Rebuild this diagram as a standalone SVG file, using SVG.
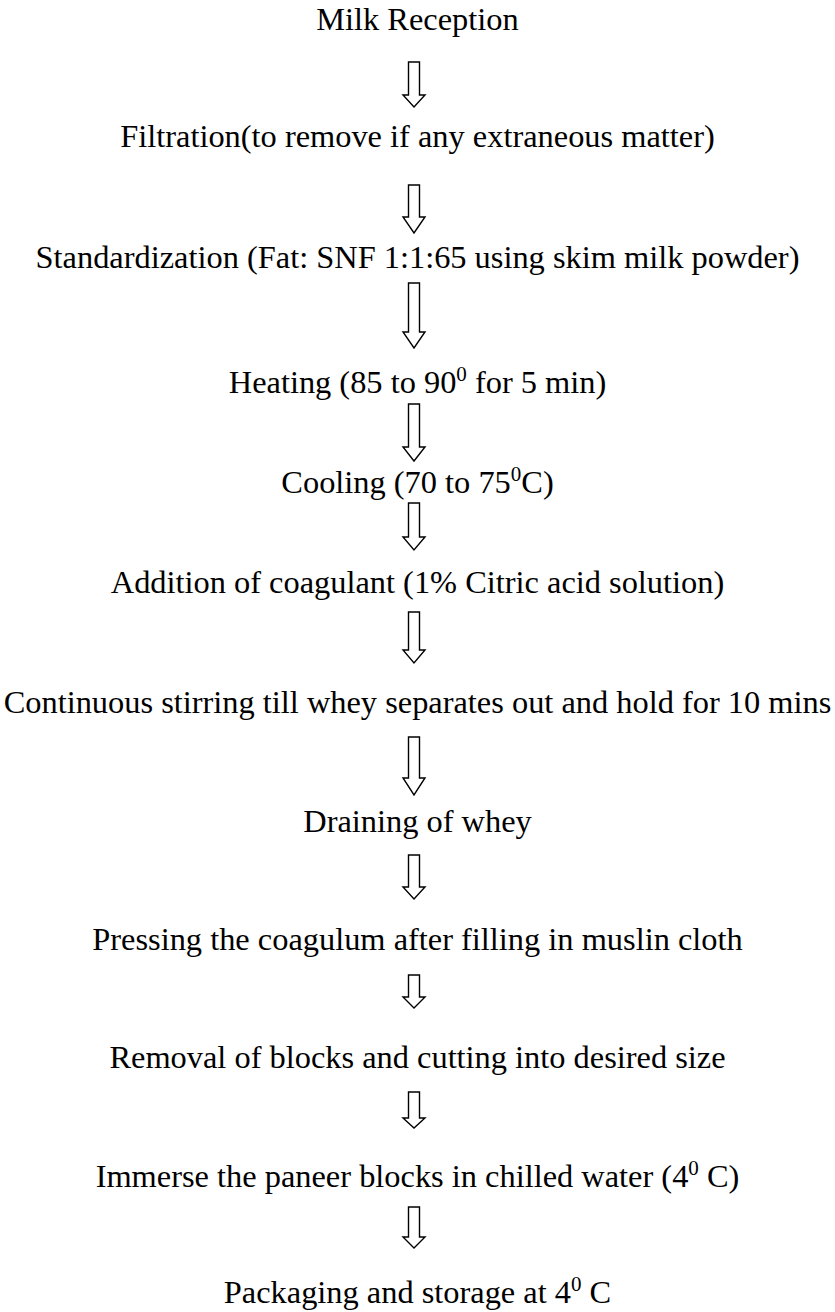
<svg xmlns="http://www.w3.org/2000/svg" width="835" height="1312" viewBox="0 0 835 1312">
<style>
  text { font-family: "Liberation Serif", "Times New Roman", serif; font-size: 32.4px; fill: #000; text-anchor: middle; }
  .sup { font-size: 21px; }
  .arr { fill: #fff; stroke: #000; stroke-width: 1.4; stroke-linejoin: miter; }
</style>
<rect width="835" height="1312" fill="#fff"/>
<g id="connectors">
  <path class="arr" d="M408.5 62 V95 H403 L414 107 L425 95 H419.5 V62 Z"/>
  <path class="arr" d="M408.5 185 V217 H403 L414 233 L425 217 H419.5 V185 Z"/>
  <path class="arr" d="M408.5 283 V332 H403 L414 348 L425 332 H419.5 V283 Z"/>
  <path class="arr" d="M408.5 404 V447 H403 L414 461 L425 447 H419.5 V404 Z"/>
  <path class="arr" d="M408.5 503 V537 H403 L414 550 L425 537 H419.5 V503 Z"/>
  <path class="arr" d="M408.5 612 V650 H403 L414 663 L425 650 H419.5 V612 Z"/>
  <path class="arr" d="M408.5 737 V778 H403 L414 795 L425 778 H419.5 V737 Z"/>
  <path class="arr" d="M408.5 855 V887 H403 L414 899 L425 887 H419.5 V855 Z"/>
  <path class="arr" d="M408.5 975 V997 H403 L414 1008 L425 997 H419.5 V975 Z"/>
  <path class="arr" d="M408.5 1092 V1118 H403 L414 1128 L425 1118 H419.5 V1092 Z"/>
  <path class="arr" d="M408.5 1207 V1237 H403 L414 1248 L425 1237 H419.5 V1207 Z"/>
</g>
<g id="n1"><text x="417.5" y="30">Milk Reception</text></g>
<g id="n2"><text x="417.5" y="147">Filtration(to remove if any extraneous matter)</text></g>
<g id="n3"><text x="417.5" y="268">Standardization (Fat: SNF 1:1:65 using skim milk powder)</text></g>
<g id="n4"><text x="417.5" y="393">Heating (85 to 90<tspan class="sup" dy="-12">0</tspan><tspan dy="12"> for 5 min)</tspan></text></g>
<g id="n5"><text x="417.5" y="493">Cooling (70 to 75<tspan class="sup" dy="-12">0</tspan><tspan dy="12">C)</tspan></text></g>
<g id="n6"><text x="417.5" y="593">Addition of coagulant (1% Citric acid solution)</text></g>
<g id="n7"><text x="417.5" y="713">Continuous stirring till whey separates out and hold for 10 mins</text></g>
<g id="n8"><text x="417.5" y="832">Draining of whey</text></g>
<g id="n9"><text x="417.5" y="950">Pressing the coagulum after filling in muslin cloth</text></g>
<g id="n10"><text x="417.5" y="1068">Removal of blocks and cutting into desired size</text></g>
<g id="n11"><text x="417.5" y="1187">Immerse the paneer blocks in chilled water (4<tspan class="sup" dy="-12">0</tspan><tspan dy="12"> C)</tspan></text></g>
<g id="n12"><text x="417.5" y="1303">Packaging and storage at 4<tspan class="sup" dy="-12">0</tspan><tspan dy="12"> C</tspan></text></g>
</svg>
